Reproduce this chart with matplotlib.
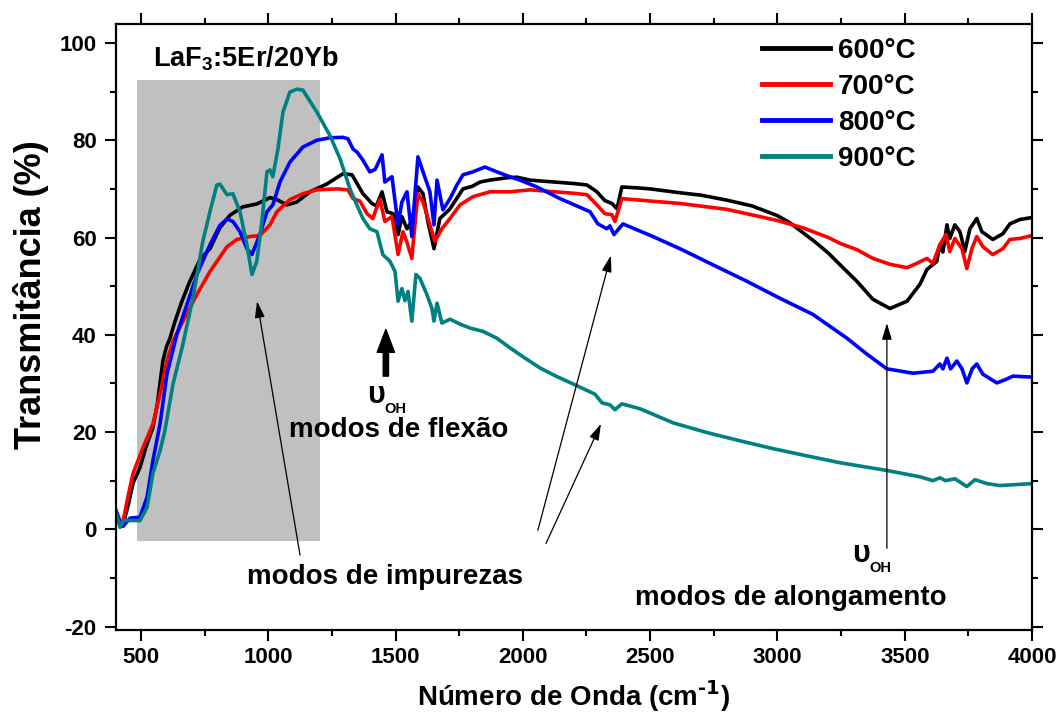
import matplotlib
matplotlib.use("Agg")
import matplotlib.pyplot as plt
from matplotlib.patches import Rectangle

plt.rcParams['font.family'] = ['Liberation Sans', 'DejaVu Sans']
plt.rcParams['font.weight'] = 'bold'
plt.rcParams['mathtext.default'] = 'regular'
plt.rcParams['axes.unicode_minus'] = False

# ---------------- data ----------------
labels = ['600°C', '700°C', '800°C', '900°C']
colors = ['#000000', '#ff0000', '#0000ff', '#008080']

x600 = [402, 415, 429, 450, 469, 496, 520, 547, 565, 586, 600, 614, 634, 661, 692, 732, 771, 810, 850, 900,
        955, 1007, 1034, 1073, 1112, 1164, 1230, 1293, 1329, 1350, 1372, 1390, 1407, 1425, 1447, 1466, 1490,
        1510, 1525, 1545, 1560, 1575, 1588, 1608, 1627, 1651, 1674, 1714, 1740, 1765, 1800, 1832, 1870, 1898,
        1940, 1977, 2028, 2100, 2200, 2252, 2291, 2322, 2350, 2370, 2389, 2450, 2500, 2617, 2700, 2800, 2900,
        2960, 3000, 3050, 3100, 3150, 3200, 3246, 3312, 3375, 3442, 3509, 3560, 3587, 3626, 3638, 3650, 3666,
        3677, 3697, 3717, 3736, 3756, 3783, 3803, 3846, 3886, 3913, 3952, 4000]
y600 = [3.3, 2.0, 0.8, 5, 9.5, 12.7, 17, 20.9, 26, 34.6, 37.5, 39.3, 42.8, 46.9, 51, 55.5, 57.7, 62.0, 64.6, 66.3,
        66.9, 68.2, 67.8, 66.7, 67.3, 69.4, 71, 73.1, 72.9, 71, 69, 68, 67, 66.5, 69.4, 65.3, 64.9,
        60.6, 64.3, 61.8, 63, 66, 70.4, 69, 63.3, 57.7, 63.9, 65.9, 68, 70, 70.5, 71.4, 71.8, 72,
        72.3, 72.4, 71.8, 71.5, 71.1, 70.8, 69.4, 67.6, 67, 65.9, 70.4, 70.2, 70, 69.2, 68.7, 67.7, 66.5,
        65.3, 64.5, 63, 61, 59, 56.8, 54.4, 51, 47.3, 45.4, 46.9, 50.4, 53.4, 55.1, 58.5, 57, 62.6,
        59.8, 62.6, 61.2, 57.1, 61.8, 63.9, 61.2, 59.6, 60.8, 62.8, 63.7, 64.1]

x700 = [402, 415, 429, 450, 469, 508, 547, 575, 602, 626, 665, 720, 771, 838, 877, 928, 967, 1007, 1034, 1085,
        1136, 1191, 1270, 1313, 1333, 1360, 1388, 1411, 1425, 1439, 1458, 1486, 1510, 1529, 1545, 1564, 1575,
        1588, 1608, 1635, 1655, 1682, 1714, 1753, 1804, 1871, 1949, 2028, 2100, 2200, 2252, 2291, 2322, 2350,
        2362, 2389, 2500, 2617, 2800, 3000, 3100, 3200, 3246, 3312, 3375, 3442, 3509, 3548, 3587, 3611, 3638,
        3662, 3677, 3697, 3725, 3744, 3764, 3783, 3807, 3846, 3886, 3913, 3952, 4000]
y700 = [3.3, 2.0, 1.4, 7, 11.5, 16.8, 21.7, 27.8, 34.6, 38.7, 42.8, 48.3, 53, 58.1, 59.6, 60.2, 60.4, 62.6, 65.3, 67.8,
        69, 69.8, 70, 69.8, 68, 67.5, 64.9, 63.9, 66, 67.8, 63.3, 64.3, 56.5, 61.2, 59, 55.7, 62,
        69, 67.3, 62.6, 59.2, 61.8, 63.9, 66.7, 68.4, 69.4, 69.4, 69.8, 69.5, 69.1, 68.8, 66.7, 64.9, 64.7,
        63.3, 68, 67.5, 67, 65.8, 63.5, 62, 60, 58.8, 57.5, 55.7, 54.5, 53.8, 54.7, 55.7, 54.7, 58.5,
        60.6, 57.1, 59.8, 57.7, 53.6, 57.7, 60.2, 58.1, 56.5, 57.7, 59.6, 59.8, 60.4]

x800 = [402, 415, 429, 457, 496, 524, 547, 575, 602, 641, 681, 720, 771, 810, 838, 861, 889, 916, 936, 967,
        995, 1018, 1046, 1085, 1136, 1191, 1242, 1293, 1313, 1333, 1350, 1372, 1399, 1420, 1447, 1458, 1486,
        1510, 1525, 1545, 1564, 1575, 1588, 1608, 1635, 1651, 1663, 1686, 1714, 1741, 1765, 1804, 1851, 1898,
        1949, 1989, 2055, 2146, 2264, 2295, 2330, 2342, 2358, 2393, 2511, 2617, 2750, 2880, 3010, 3139, 3273,
        3352, 3430, 3532, 3611, 3638, 3650, 3666, 3680, 3705, 3725, 3744, 3765, 3783, 3807, 3862, 3901, 3925, 4000]
y800 = [3.9, 2, 0.6, 2.3, 2.5, 6.6, 14.1, 21.7, 31.9, 40.1, 46.3, 52.4, 58.5, 62.5, 63.8, 63.3, 61.2, 57.7, 56.5, 60.6,
        65.3, 66.7, 71.4, 75.5, 78.6, 80, 80.5, 80.6, 80.3, 78.2, 77.5, 75.9, 73.5, 74, 77, 71.4, 72.5,
        62.6, 67.3, 69.4, 60.2, 68, 76.6, 73.5, 69.4, 62.6, 71.8, 65.7, 68, 70.8, 72.9, 73.5, 74.5, 73.5,
        72.5, 71.8, 70.4, 68, 65.3, 62.8, 61.8, 62.4, 60.6, 62.8, 60.2, 57.7, 54.3, 51, 47.5, 44.2, 39.3,
        36, 33, 32.1, 32.5, 34, 33, 35.2, 33, 34.6, 33, 30.1, 33, 34, 31.9, 30.1, 30.9, 31.5, 31.3]

x900 = [402, 418, 429, 469, 496, 524, 547, 575, 594, 626, 665, 704, 743, 771, 798, 810, 838, 861, 889, 916,
        936, 955, 975, 995, 1007, 1018, 1038, 1058, 1085, 1112, 1136, 1191, 1242, 1282, 1321, 1348, 1372, 1399,
        1427, 1450, 1478, 1498, 1510, 1525, 1537, 1549, 1564, 1580, 1596, 1623, 1643, 1651, 1663, 1682, 1714,
        1753, 1792, 1843, 1898, 1950, 2000, 2067, 2130, 2197, 2283, 2311, 2342, 2362, 2389, 2460, 2590, 2723,
        2853, 2982, 3116, 3245, 3430, 3560, 3611, 3638, 3660, 3697, 3744, 3776, 3823, 3874, 4000]
y900 = [3.3, 0.4, 1.8, 1.8, 1.8, 4.5, 11.5, 16.2, 20.3, 29.9, 38.1, 47.5, 59.2, 65.3, 70.8, 71, 68.8, 69, 65.3, 58.5,
        52.4, 55.1, 63.3, 73.5, 73.9, 72.5, 78.2, 85.8, 89.9, 90.5, 90.3, 85.8, 81, 76.2, 70, 66.7, 63.9, 61.8,
        61.2, 56.5, 55.1, 53, 46.9, 49.5, 47, 48.9, 42.8, 52.4, 51.6, 48.3, 45.4, 42.8, 46.5, 42.4, 43.2,
        42.2, 41.4, 40.7, 39.3, 37.3, 35.5, 33.2, 31.5, 29.9, 27.8, 26, 25.6, 24.6, 25.8, 24.8, 21.9, 19.9,
        18.2, 16.6, 15.1, 13.7, 12.1, 10.8, 10, 10.6, 10, 10.4, 8.8, 10.2, 9.4, 9, 9.4]

series_x = [x600, x700, x800, x900]
series_y = [y600, y700, y800, y900]

xticks = [500, 1000, 1500, 2000, 2500, 3000, 3500, 4000]
yticks = [-20, 0, 20, 40, 60, 80, 100]

# ---------------- figure ----------------
fig = plt.figure(figsize=(10.61, 7.13), dpi=100)
ax = fig.add_axes([116/1061, 1 - 630/713, 916/1061, 606/713])

ax.add_patch(Rectangle((485, -2.3), 720, 94.6, facecolor='#c0c0c0', edgecolor='none', zorder=0))

for xs, ys, c, lab in zip(series_x, series_y, colors, labels):
    ax.plot(xs, ys, color=c, lw=2.6, label=lab, zorder=2, solid_joinstyle='round')

ax.set_xlim(402, 4000)
ax.set_ylim(-20.7, 103.9)
ax.set_xticks(xticks)
ax.set_yticks(yticks)
ax.set_xticks([750, 1250, 1750, 2250, 2750, 3250, 3750], minor=True)
ax.set_yticks([-10, 10, 30, 50, 70, 90], minor=True)

for s in ax.spines.values():
    s.set_linewidth(1.6)
ax.tick_params(which='both', direction='out', top=True, right=True, width=1.5)
ax.tick_params(which='major', length=8, labelsize=16)
ax.tick_params(axis='x', which='major', pad=4)
ax.tick_params(axis='y', which='major', pad=6)
ax.tick_params(which='minor', length=4.5)
for lbl in ax.get_xticklabels() + ax.get_yticklabels():
    lbl.set_fontweight('bold')

ax.set_xlabel('Número de Onda (cm$^{\\text{-1}}$)', fontsize=20, fontweight='bold')
ax.set_ylabel('Transmitância (%)', fontsize=26, fontweight='bold')
ax.xaxis.set_label_coords(0.499, -0.081)
ax.yaxis.set_label_coords(-0.073, 0.553)

leg = ax.legend(loc='upper left', bbox_to_anchor=(0.705, 0.977), frameon=False,
                prop={'size': 20, 'weight': 'bold'}, handlelength=2.45, handletextpad=0.3,
                labelspacing=0.36, borderpad=0, borderaxespad=0)
for h in leg.get_lines():
    h.set_linewidth(3.5)

ax.text(547, 95.1, 'LaF$_3$:5Er/20Yb', fontsize=19.5, fontweight='bold', ha='left', va='baseline')

# annotations
ax.text(1513, 18.9, 'modos de flexão', fontsize=20, fontweight='bold', ha='center', va='baseline')
ax.text(1458, -11.3, 'modos de impurezas', fontsize=20, fontweight='bold', ha='center', va='baseline')
ax.text(3053, -15.6, 'modos de alongamento', fontsize=20, fontweight='bold', ha='center', va='baseline')

ax.text(1388, 25.9, 'υ', fontsize=22, ha='left', va='baseline')
ax.text(1458, 23.9, 'OH', fontsize=10.5, fontweight='bold', ha='left', va='baseline')
ax.text(3293, -6.8, 'υ', fontsize=22, ha='left', va='baseline')
ax.text(3363, -8.8, 'OH', fontsize=10.5, fontweight='bold', ha='left', va='baseline')

# thick arrow (flexão)
ax.annotate('', xy=(1462, 41.1), xytext=(1462, 31.5),
            arrowprops=dict(arrowstyle='simple,head_length=1.65,head_width=1.25,tail_width=0.38',
                            fc='k', ec='k', mutation_scale=10, shrinkA=0, shrinkB=0))

thin = dict(arrowstyle='-|>,head_length=0.5,head_width=0.15', color='k', lw=0.9,
            mutation_scale=20, shrinkA=0, shrinkB=0)
ax.annotate('', xy=(956, 46.9), xytext=(1125, -5.3), arrowprops=thin)
ax.annotate('', xy=(2346, 56.3), xytext=(2059, -0.2), arrowprops=thin)
ax.annotate('', xy=(2307, 21.7), xytext=(2091, -2.9), arrowprops=thin)
ax.annotate('', xy=(3430, 42.4), xytext=(3430, -3.9), arrowprops=thin)

fig.savefig('out.png', dpi=100)
